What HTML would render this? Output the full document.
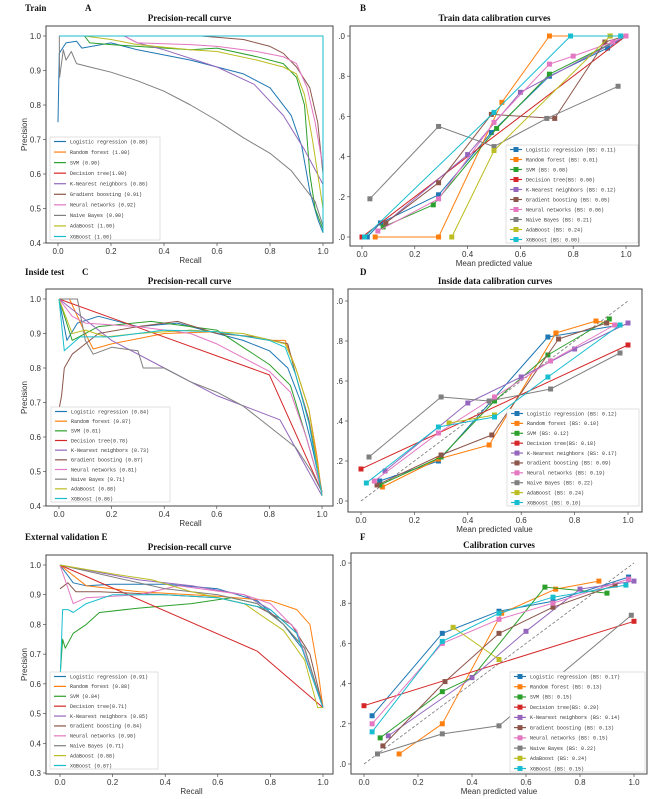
<!DOCTYPE html>
<html><head><meta charset="utf-8"><style>
html,body{margin:0;padding:0;background:#fff;}
svg{display:block;}
text{font-family:"Liberation Sans",sans-serif;}
.tk{font-size:8px;fill:#333;}
.lg{font-family:"Liberation Mono",monospace;font-size:5px;fill:#333;}
.tt{font-family:"Liberation Serif",serif;font-weight:bold;font-size:9px;fill:#111;}
.hd{font-family:"Liberation Serif",serif;font-weight:bold;font-size:9px;fill:#111;}
</style></head><body>
<svg id="fig" width="666" height="799" viewBox="0 0 666 799" xmlns="http://www.w3.org/2000/svg"></svg>
<script>
const models = ["Logistic regression","Random forest","SVM","Decision tree","K-Nearest neighbors","Gradient boosting","Neural networks","Naive Bayes","AdaBoost","XGBoost"];
const colors = ["#1f77b4","#ff7f0e","#2ca02c","#d62728","#9467bd","#8c564b","#e377c2","#7f7f7f","#bcbd22","#17becf"];
const scoresA = ["0.86","1.00","0.90","1.00","0.86","0.91","0.92","0.90","1.00","1.00"];
const scoresB = ["0.11","0.01","0.08","0.00","0.12","0.05","0.06","0.21","0.24","0.00"];
const scoresC = ["0.84","0.87","0.81","0.78","0.73","0.87","0.81","0.71","0.88","0.86"];
const scoresD = ["0.12","0.10","0.12","0.18","0.17","0.09","0.19","0.22","0.24","0.10"];
const scoresE = ["0.91","0.88","0.84","0.71","0.85","0.84","0.90","0.71","0.88","0.87"];
const scoresF = ["0.17","0.13","0.15","0.29","0.14","0.13","0.15","0.22","0.24","0.15"];
const prTicksA = [0.4,0.5,0.6,0.7,0.8,0.9,1.0];
const prTicksE = [0.3,0.4,0.5,0.6,0.7,0.8,0.9,1.0];
const xTicks = [0,0.2,0.4,0.6,0.8,1.0];
const calTicks = [0,0.2,0.4,0.6,0.8,1.0];
const calTickLabels = [".0",".2",".4",".6",".8",".0"];

const dataA = [
[[0,0.75],[0.005,0.95],[0.03,0.98],[0.07,0.985],[0.09,0.965],[0.2,0.98],[0.3,0.96],[0.5,0.93],[0.6,0.91],[0.7,0.89],[0.8,0.85],[0.88,0.77],[0.92,0.68],[0.95,0.55],[0.98,0.47],[1,0.43]],
[[0.005,1],[1,1],[1,0.43]],
[[0.1,1],[0.12,0.98],[0.2,0.975],[0.3,0.97],[0.5,0.96],[0.6,0.965],[0.75,0.94],[0.85,0.92],[0.9,0.88],[0.93,0.8],[0.95,0.6],[0.97,0.5],[1,0.44]],
[[0.005,1],[1,1],[1,0.43]],
[[0.25,1],[0.3,0.98],[0.4,0.96],[0.6,0.91],[0.74,0.86],[0.85,0.77],[0.93,0.67],[1,0.57]],
[[0.54,1],[0.7,0.99],[0.8,0.97],[0.85,0.95],[0.9,0.91],[0.95,0.85],[0.98,0.75],[1,0.6]],
[[0.25,1],[0.3,0.98],[0.5,0.975],[0.6,0.97],[0.75,0.955],[0.85,0.94],[0.9,0.92],[0.94,0.85],[0.97,0.75],[1,0.62]],
[[0.005,1],[0.006,0.88],[0.02,0.96],[0.03,0.93],[0.05,0.955],[0.07,0.92],[0.12,0.91],[0.2,0.895],[0.3,0.87],[0.4,0.84],[0.5,0.8],[0.6,0.755],[0.7,0.705],[0.8,0.66],[0.88,0.61],[0.93,0.56],[0.97,0.52],[1,0.45]],
[[0.1,1],[0.2,0.99],[0.3,0.975],[0.5,0.96],[0.6,0.955],[0.75,0.93],[0.85,0.91],[0.9,0.89],[0.93,0.83],[0.96,0.7],[0.98,0.6],[1,0.5]],
[[0.005,1],[1,1],[1,0.43]]
];
const dataC = [
[[0,1],[0.03,0.88],[0.07,0.93],[0.15,0.95],[0.3,0.92],[0.45,0.93],[0.6,0.9],[0.7,0.88],[0.8,0.85],[0.87,0.8],[0.92,0.7],[0.96,0.58],[1,0.44]],
[[0,1],[0.04,1],[0.1,0.9],[0.13,0.855],[0.2,0.87],[0.4,0.9],[0.6,0.905],[0.8,0.88],[0.86,0.88],[0.9,0.8],[0.95,0.68],[0.98,0.55],[1,0.43]],
[[0,1],[0.05,0.88],[0.15,0.92],[0.35,0.935],[0.5,0.92],[0.6,0.91],[0.7,0.86],[0.8,0.81],[0.88,0.75],[0.94,0.6],[1,0.44]],
[[0,1],[0.8,0.78],[1,0.44]],
[[0,1],[0.2,0.88],[0.4,0.8],[0.6,0.72],[0.84,0.65],[1,0.43]],
[[0,0.68],[0.01,0.72],[0.02,0.8],[0.05,0.84],[0.1,0.87],[0.15,0.9],[0.3,0.92],[0.45,0.935],[0.6,0.9],[0.75,0.89],[0.87,0.87],[0.9,0.78],[0.95,0.65],[1,0.44]],
[[0,1],[0.05,0.95],[0.1,0.93],[0.3,0.92],[0.5,0.9],[0.6,0.87],[0.7,0.83],[0.8,0.79],[0.88,0.73],[0.94,0.6],[1,0.44]],
[[0,1],[0.07,1],[0.1,0.88],[0.13,0.84],[0.2,0.86],[0.3,0.85],[0.32,0.8],[0.4,0.8],[0.5,0.76],[0.6,0.73],[0.7,0.69],[0.8,0.63],[0.9,0.57],[0.96,0.5],[1,0.44]],
[[0,1],[0.05,0.9],[0.1,0.91],[0.18,0.89],[0.3,0.9],[0.5,0.91],[0.7,0.9],[0.86,0.87],[0.9,0.8],[0.95,0.68],[1,0.43]],
[[0,1],[0.02,0.85],[0.08,0.89],[0.2,0.89],[0.4,0.91],[0.6,0.905],[0.8,0.88],[0.86,0.86],[0.9,0.78],[0.95,0.64],[1,0.43]]
];
const dataE = [
[[0,1],[0.05,0.94],[0.1,0.93],[0.2,0.935],[0.4,0.935],[0.6,0.92],[0.75,0.88],[0.85,0.8],[0.92,0.72],[1,0.52]],
[[0,1],[0.1,0.93],[0.3,0.91],[0.6,0.895],[0.8,0.88],[0.9,0.85],[0.95,0.8],[0.98,0.65],[1,0.52]],
[[0,0.62],[0.01,0.75],[0.02,0.72],[0.05,0.77],[0.1,0.8],[0.15,0.84],[0.3,0.855],[0.5,0.87],[0.65,0.89],[0.75,0.87],[0.85,0.8],[0.93,0.72],[1,0.52]],
[[0,1],[0.75,0.71],[1,0.52]],
[[0,1],[0.3,0.95],[0.5,0.93],[0.7,0.9],[0.8,0.85],[0.9,0.77],[1,0.52]],
[[0,0.92],[0.03,0.94],[0.06,0.91],[0.15,0.91],[0.4,0.9],[0.6,0.89],[0.75,0.86],[0.88,0.8],[0.95,0.7],[1,0.52]],
[[0,1],[0.05,0.87],[0.1,0.89],[0.3,0.9],[0.45,0.93],[0.7,0.9],[0.8,0.87],[0.9,0.78],[1,0.52]],
[[0,1],[0.4,0.92],[0.6,0.9],[0.75,0.87],[0.85,0.8],[0.93,0.72],[1,0.52]],
[[0,1],[0.2,0.97],[0.35,0.95],[0.5,0.91],[0.7,0.87],[0.85,0.78],[0.93,0.68],[0.98,0.52],[1,0.52]],
[[0,0.6],[0.01,0.85],[0.03,0.85],[0.05,0.84],[0.1,0.87],[0.2,0.9],[0.4,0.9],[0.6,0.89],[0.8,0.85],[0.9,0.77],[1,0.52]]
];
const dataB = [
[[0.02,0],[0.07,0.07],[0.29,0.21],[0.49,0.52],[0.71,0.8],[0.93,0.94],[1,1]],
[[0.05,0],[0.29,0],[0.53,0.67],[0.71,1],[0.94,1],[1,1]],
[[0.08,0.05],[0.27,0.16],[0.51,0.54],[0.71,0.81],[1,1]],
[[0,0],[1,1]],
[[0.09,0.07],[0.4,0.41],[0.6,0.72],[1,1]],
[[0.09,0.07],[0.29,0.27],[0.49,0.61],[0.73,0.59],[0.92,0.97],[1,1]],
[[0.06,0.03],[0.29,0.19],[0.5,0.57],[0.71,0.86],[0.8,0.9],[0.95,0.97],[1,1]],
[[0.03,0.19],[0.29,0.55],[0.5,0.45],[0.7,0.59],[0.97,0.75]],
[[0.34,0],[0.5,0.43],[0.94,1]],
[[0.01,0],[0.5,0.62],[0.79,1],[0.98,1]]
];
const dataD = [
[[0.07,0.1],[0.29,0.2],[0.7,0.82],[0.97,0.88]],
[[0.08,0.07],[0.29,0.21],[0.48,0.28],[0.73,0.84],[0.88,0.9],[0.97,0.88]],
[[0.07,0.08],[0.3,0.22],[0.5,0.5],[0.7,0.73],[0.93,0.91]],
[[0,0.16],[1,0.78]],
[[0.09,0.15],[0.4,0.49],[0.6,0.62],[0.8,0.76],[1,0.89]],
[[0.06,0.08],[0.3,0.23],[0.49,0.33],[0.74,0.81],[0.92,0.89]],
[[0.05,0.1],[0.29,0.34],[0.5,0.52],[0.71,0.7],[0.95,0.88]],
[[0.03,0.22],[0.3,0.52],[0.48,0.5],[0.71,0.56],[0.97,0.74]],
[[0.33,0.39],[0.5,0.43]],
[[0.02,0.09],[0.29,0.37],[0.5,0.42],[0.7,0.62],[0.97,0.88]]
];
const dataF = [
[[0.03,0.24],[0.29,0.65],[0.5,0.76],[0.7,0.81],[0.98,0.93]],
[[0.13,0.05],[0.29,0.2],[0.51,0.75],[0.71,0.87],[0.87,0.91]],
[[0.06,0.13],[0.29,0.36],[0.4,0.43],[0.67,0.88],[0.9,0.85]],
[[0,0.29],[1,0.71]],
[[0.09,0.14],[0.4,0.43],[0.6,0.66],[0.8,0.87],[1,0.91]],
[[0.07,0.09],[0.3,0.41],[0.5,0.65],[0.7,0.78],[0.93,0.89]],
[[0.03,0.2],[0.29,0.6],[0.5,0.72],[0.7,0.8],[0.98,0.92]],
[[0.05,0.05],[0.29,0.15],[0.5,0.19],[0.99,0.74]],
[[0.33,0.68],[0.5,0.52]],
[[0.03,0.16],[0.29,0.61],[0.5,0.75],[0.7,0.83],[0.97,0.89]]
];

const NS = "http://www.w3.org/2000/svg";
const svg = document.getElementById('fig');
function mk(tag, attrs, parent){ const e=document.createElementNS(NS,tag); for(const k in attrs) e.setAttribute(k,attrs[k]); (parent||svg).appendChild(e); return e; }
function txt(s, attrs, parent){ const t=mk('text',attrs,parent); t.textContent=s; return t; }

function panel(cfg){
  const g = mk('g',{});
  
  
  const sx = v => cfg.x0 + (v - 0) * (cfg.x1 - cfg.x0);
  const sy = v => cfg.yA + (v - cfg.vA) * (cfg.yB - cfg.yA) / (cfg.vB - cfg.vA);
  const [bl,bt,br,bb] = cfg.box;
  // header
  const h1 = txt(cfg.header, {x:cfg.hx, y:cfg.hy, class:'hd'}, g);
  
  
  if (cfg.letter) {
    const h2 = txt(cfg.letter, {x:cfg.lx, y:cfg.hy, class:'hd'}, g);
    
    
  }
  const ti = txt(cfg.title, {x:(bl+br)/2, y:bt-5, class:'tt', 'text-anchor':'middle'}, g);
  
  
  // clip
  const cid = 'c'+cfg.name;
  const cp = mk('clipPath',{id:cid},g); mk('rect',{x:bl,y:bt,width:br-bl,height:bb-bt},cp);
  // ticks
  xTicks.forEach(v=>{
    const X = sx(v);
    mk('line',{x1:X,x2:X,y1:bb,y2:bb+3,stroke:'#333','stroke-width':0.6},g);
    const t = txt(v.toFixed(1), {x:X, y:bb+11, class:'tk','text-anchor':'middle'}, g);
    
    
  });
  cfg.yticks.forEach((v,i)=>{
    const Y = sy(v);
    mk('line',{x1:bl-3,x2:bl,y1:Y,y2:Y,stroke:'#333','stroke-width':0.6},g);
    const t = txt(cfg.ylabels ? cfg.ylabels[i] : v.toFixed(1), {x:bl-5, y:Y+3, class:'tk','text-anchor':'end'}, g);
    
    
  });
  const xl = txt(cfg.xlabel, {x:(cfg.x0+cfg.x1)/2, y:bb+20, class:'tk','text-anchor':'middle'}, g);
  
  
  if (cfg.ylabel) {
    const yl = txt(cfg.ylabel, {x:0, y:0, class:'tk','text-anchor':'middle', transform:`translate(${bl-19},${(bt+bb)/2}) rotate(-90)`}, g);
    
    
  }
  const plot = mk('g',{'clip-path':`url(#${cid})`},g);
  if (cfg.cal) {
    const d = mk('line',{x1:sx(0),y1:sy(0),x2:sx(1),y2:sy(1),stroke:'#777','stroke-width':0.8,'stroke-dasharray':'3,2'},plot);
    
    
  }
  cfg.data.forEach((pts,i)=>{
    const p = mk('polyline',{points:pts.map(q=>sx(q[0]).toFixed(1)+','+sy(q[1]).toFixed(1)).join(' '),fill:'none',stroke:colors[i],'stroke-width':1,'stroke-linejoin':'round'},plot);
    
    
    if (cfg.cal) pts.forEach(q=>{
      const m = mk('rect',{x:sx(q[0])-2.5,y:sy(q[1])-2.5,width:5,height:5,fill:colors[i]},plot);
      
      
    });
  });
  mk('rect',{x:bl,y:bt,width:br-bl,height:bb-bt,fill:'none',stroke:'#444','stroke-width':1},g);
  // legend
  const [ll,lt,lr,lb] = cfg.legend;
  const lg = mk('g',{},g);
  
  
  mk('rect',{x:ll,y:lt,width:lr-ll,height:lb-lt,fill:'#fff',stroke:'#ccc','stroke-width':0.6},lg);
  const step = (lb-lt-8)/9;
  models.forEach((m,i)=>{
    const Y = lt+4+step*i+0.5;
    mk('line',{x1:ll+4,x2:ll+16,y1:Y,y2:Y,stroke:colors[i],'stroke-width':1.2},lg);
    if (cfg.cal) mk('rect',{x:ll+7.5,y:Y-2.5,width:5,height:5,fill:colors[i]},lg);
    const label = m + (m==="Decision tree" ? "" : " ") + (cfg.cal ? "(BS: "+cfg.scores[i]+")" : "("+cfg.scores[i]+")");
    const t = txt(label,{x:ll+20,y:Y+1.8,class:'lg'},lg);
    
    
  });
}

panel({name:'panel-a',header:'Train',hx:25,hy:11,letter:'A',lx:85,title:'Precision-recall curve',box:[46,26,333,243],x0:58,x1:323,vA:1,yA:36,vB:0.4,yB:243,yticks:prTicksA,xlabel:'Recall',ylabel:'Precision',data:dataA,scores:scoresA,legend:[50,137,160,240],cal:false});
panel({name:'panel-b',header:'',hx:360,hy:11,letter:'B',lx:360,title:'Train data calibration curves',box:[350,26,639,246],x0:362,x1:626,vA:0,yA:237,vB:1,yB:36,yticks:calTicks,ylabels:calTickLabels,xlabel:'Mean predicted value',data:dataB,scores:scoresB,legend:[506,145,638,243],cal:true});
panel({name:'panel-c',header:'Inside test',hx:25,hy:275,letter:'C',lx:82,title:'Precision-recall curve',box:[46,289,333,506],x0:59,x1:322,vA:1,yA:299,vB:0.4,yB:506,yticks:prTicksA,xlabel:'Recall',ylabel:'Precision',data:dataC,scores:scoresC,legend:[51,407,170,502],cal:false});
panel({name:'panel-d',header:'',hx:360,hy:275,letter:'D',lx:360,title:'Inside data calibration curves',box:[348,289,642,512],x0:361,x1:628,vA:0,yA:501,vB:1,yB:301,yticks:calTicks,ylabels:calTickLabels,xlabel:'Mean predicted value',data:dataD,scores:scoresD,legend:[507,409,639,506],cal:true});
panel({name:'panel-e',header:'External validation E',hx:25,hy:540,letter:'',lx:0,title:'Precision-recall curve',box:[46,555,333,774],x0:60,x1:323,vA:1,yA:565,vB:0.3,yB:773,yticks:prTicksE,xlabel:'Recall',ylabel:'Precision',data:dataE,scores:scoresE,legend:[50,672,158,769],cal:false});
panel({name:'panel-f',header:'',hx:360,hy:540,letter:'F',lx:360,title:'Calibration curves',box:[351,553,647,774],x0:364,x1:634,vA:0,yA:764,vB:1,yB:563,yticks:calTicks,ylabels:calTickLabels,xlabel:'Mean predicted value',data:dataF,scores:scoresF,legend:[510,672,645,772],cal:true});
</script>
</body></html>
